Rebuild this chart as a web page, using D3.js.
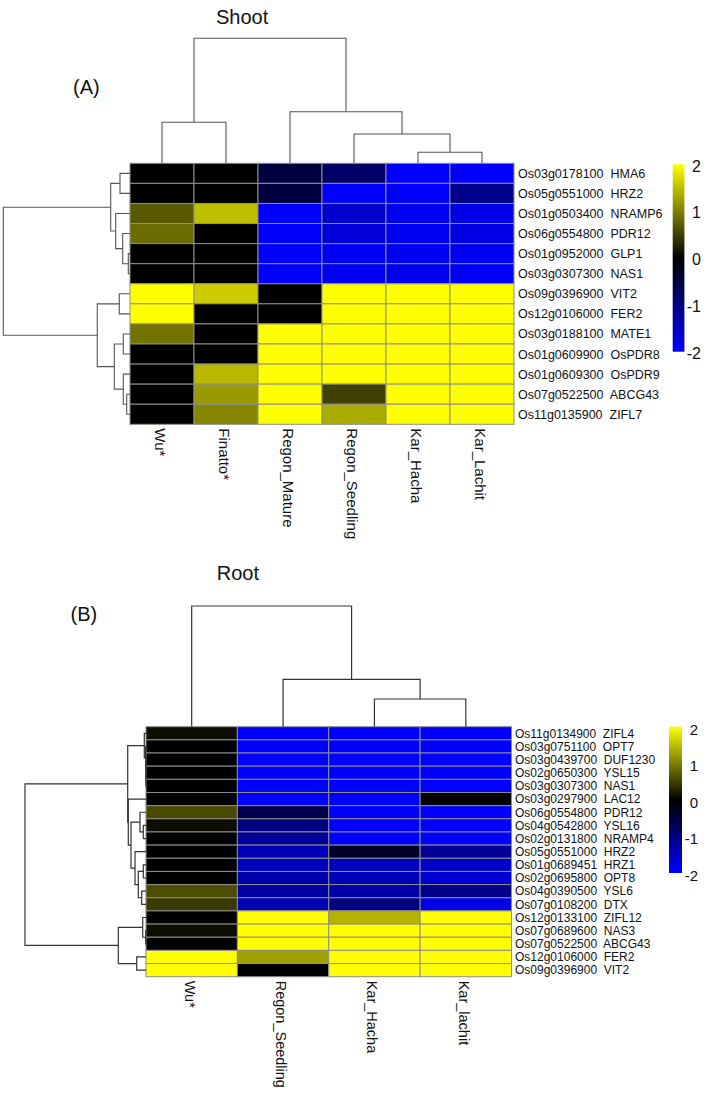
<!DOCTYPE html>
<html>
<head>
<meta charset="utf-8">
<script src="https://cdnjs.cloudflare.com/ajax/libs/d3/7.8.5/d3.min.js"></script>
<style>
  body { margin: 0; background: #fff; }
  text { font-family: "Liberation Sans", Arial, sans-serif; fill: #111; }
</style>
</head>
<body>
<div id="chart"></div>
<script>
// ---------- Shoot (A) ----------
const shootSamples = ["Wu*", "Finatto*", "Regon_Mature", "Regon_Seedling", "Kar_Hacha", "Kar_Lachit"];
const shootGenes = [
    "Os03g0178100  HMA6", "Os05g0551000  HRZ2", "Os01g0503400  NRAMP6", "Os06g0554800  PDR12",
    "Os01g0952000  GLP1", "Os03g0307300  NAS1", "Os09g0396900  VIT2", "Os12g0106000  FER2",
    "Os03g0188100  MATE1", "Os01g0609900  OsPDR8", "Os01g0609300  OsPDR9", "Os07g0522500  ABCG43",
    "Os11g0135900  ZIFL7"
];
// rows follow shootGenes, columns follow shootSamples
const shootValues = [
    [0, 0, -0.5, -0.8, -2, -2],
    [0, 0, -0.5, -2, -2, -1.1],
    [0.7, 1.5, -2, -1.6, -1.9, -1.8],
    [0.85, 0, -2, -1.7, -1.9, -1.8],
    [0, 0, -2, -1.9, -1.9, -1.9],
    [0, 0, -2, -1.9, -1.85, -1.95],
    [2, 1.6, 0, 2, 2, 2],
    [2, 0, 0, 2, 2, 2],
    [0.9, 0, 2, 2, 2, 2],
    [0, 0, 2, 2, 2, 2],
    [0, 1.45, 2, 2, 2, 2],
    [0, 1.2, 2, 0.5, 2, 2],
    [0, 1.05, 2, 1.35, 2, 2]
];
// dendrograms: [height, left, right], numbers are leaf indices
const shootColTree = [125, [41, 0, 1], [51.6, 2, [29.3, 3, [11, 4, 5]]]];
const shootRowTree = [126.7,
    [19.3, [10, 0, 1], [14.3, 2, [7.3, 3, [1.7, 4, 5]]]],
    [32.7, [10.7, 6, 7], [15.7, [6.7, 8, 9], [6.7, 10, [3.3, 11, 12]]]]];

// ---------- Root (B) ----------
const rootSamples = ["Wu*", "Regon_Seedling", "Kar_Hacha", "Kar_lachit"];
const rootGenes = [
    "Os11g0134900  ZIFL4", "Os03g0751100  OPT7", "Os03g0439700  DUF1230", "Os02g0650300  YSL15",
    "Os03g0307300  NAS1", "Os03g0297900  LAC12", "Os06g0554800  PDR12", "Os04g0542800  YSL16",
    "Os02g0131800  NRAMP4", "Os05g0551000  HRZ2", "Os01g0689451  HRZ1", "Os02g0695800  OPT8",
    "Os04g0390500  YSL6", "Os07g0108200  DTX", "Os12g0133100  ZIFL12", "Os07g0689600  NAS3",
    "Os07g0522500  ABCG43", "Os12g0106000  FER2", "Os09g0396900  VIT2"
];
const rootValues = [
    [0.1, -2, -2, -2],
    [0, -2, -2, -2],
    [0, -2, -2, -2],
    [0, -2, -2, -2],
    [0, -2, -2, -2],
    [0, -2, -2, 0],
    [0.58, -0.6, -2, -2],
    [0.1, -1.0, -2, -2],
    [0, -1.2, -2, -2],
    [0, -1.45, -0.35, -1.2],
    [0, -1.5, -1.5, -1.6],
    [0, -1.35, -1.45, -1.65],
    [0.6, -1.3, -1.3, -1.1],
    [0.45, -1.4, -1.0, -1.8],
    [0, 2, 1.4, 2],
    [0.1, 2, 2, 2],
    [0, 2, 2, 2],
    [2, 1.25, 2, 2],
    [2, 0, 2, 2]
];
const rootColTree = [120.7, 0, [47.4, 1, [27.7, 2, 3]]];
const rootRowTree = [121,
    [18.3, [1.7, 0, [0.4, 1, [0.2, 2, [0.1, 3, 4]]]],
        [17.7, 5, [15, [6, 6, [2.7, 7, 8]], [11, 9, [7.7, [2.7, 10, 11], [4.3, 12, 13]]]]]],
    [27.7, [3.3, 14, [0.3, 15, 16]], [9.3, 17, 18]]];

const legendTicks = [-2, -1, 0, 1, 2];

// ---------- drawing ----------
const width = 709, height = 1093;

const svg = d3.select("#chart").append("svg")
    .attr("width", width)
    .attr("height", height)
    .style("background", "#fff");

const color = d3.scaleLinear()
    .domain([-2, 0, 2])
    .range(["#0000ff", "#000000", "#ffff00"])
    .clamp(true);

// shared gradient for the colour keys
const grad = svg.append("defs").append("linearGradient")
    .attr("id", "keyGrad")
    .attr("x1", 0).attr("y1", 1).attr("x2", 0).attr("y2", 0);
d3.range(-2, 2.01, 0.25).forEach(v => {
    grad.append("stop")
        .attr("offset", (v + 2) / 4)
        .attr("stop-color", color(v));
});

function drawDendro(g, tree, leafPos, hScale, vertical, stroke, sw) {
    let segs = [];
    function walk(node) {
        if (typeof node === "number") return {p: leafPos(node), h: 0};
        let l = walk(node[1]), r = walk(node[2]);
        segs.push({l: l, r: r, h: node[0]});
        return {p: (l.p + r.p) / 2, h: node[0]};
    }
    walk(tree);

    g.selectAll(null)
        .data(segs)
        .enter()
        .append("path")
        .attr("fill", "none")
        .attr("stroke", stroke)
        .attr("stroke-width", sw)
        .attr("d", function(d) {
            if (vertical) {
                return `M${d.l.p},${hScale(d.l.h)}V${hScale(d.h)}H${d.r.p}V${hScale(d.r.h)}`;
            }
            return `M${hScale(d.l.h)},${d.l.p}H${hScale(d.h)}V${d.r.p}H${hScale(d.r.h)}`;
        });
}

function drawPanel(p) {
    let g = svg.append("g");

    let x = d3.scaleBand().domain(d3.range(p.samples.length)).range([p.left, p.right]);
    let y = d3.scaleBand().domain(d3.range(p.genes.length)).range([p.top, p.bottom]);

    // cells
    let cells = [];
    p.values.forEach((row, i) => row.forEach((v, j) => cells.push({i: i, j: j, v: v})));

    g.selectAll("rect.cell")
        .data(cells)
        .enter()
        .append("rect")
        .attr("class", "cell")
        .attr("x", d => x(d.j))
        .attr("y", d => y(d.i))
        .attr("width", x.bandwidth())
        .attr("height", y.bandwidth())
        .attr("fill", d => color(d.v))
        .attr("stroke", "#8e8e8e")
        .attr("stroke-width", 1);

    // gene labels
    g.selectAll("text.gene")
        .data(p.genes)
        .enter()
        .append("text")
        .attr("class", "gene")
        .attr("x", p.right + p.geneGap)
        .attr("y", (d, i) => y(i) + y.bandwidth() / 2)
        .attr("dy", "0.36em")
        .style("white-space", "pre")
        .style("font-size", p.geneFont + "px")
        .text(d => d);

    // sample labels, rotated
    g.selectAll("text.sample")
        .data(p.samples)
        .enter()
        .append("text")
        .attr("class", "sample")
        .attr("transform", (d, i) => `translate(${x(i) + x.bandwidth() / 2 - 2}, ${p.bottom + 4}) rotate(90)`)
        .attr("dy", "0.35em")
        .style("font-size", p.sampleFont + "px")
        .text(d => d);

    // dendrograms
    let colH = d3.scaleLinear().domain([0, p.colTree[0]]).range([p.top, p.colTop]);
    drawDendro(g, p.colTree, i => x(i) + x.bandwidth() / 2, colH, true, p.treeColor, p.treeWidth);

    let rowH = d3.scaleLinear().domain([0, p.rowTree[0]]).range([p.left, p.rowLeft]);
    drawDendro(g, p.rowTree, i => y(i) + y.bandwidth() / 2, rowH, false, p.treeColor, p.treeWidth);

    // colour key
    let k = p.key;
    g.append("rect")
        .attr("x", k.x)
        .attr("y", k.top)
        .attr("width", k.w)
        .attr("height", k.bottom - k.top)
        .attr("fill", "url(#keyGrad)");

    let kScale = d3.scaleLinear().domain([-2, 2]).range([k.bottom, k.top]);
    g.selectAll("text.key")
        .data(legendTicks)
        .enter()
        .append("text")
        .attr("class", "key")
        .attr("x", k.labelX)
        .attr("y", d => kScale(d) + k.shift)
        .attr("dy", "0.36em")
        .attr("text-anchor", "end")
        .style("font-size", k.font + "px")
        .text(d => d);

    // titles
    g.append("text")
        .attr("x", p.titleX).attr("y", p.titleY)
        .style("font-size", "20px")
        .text(p.title);
    g.append("text")
        .attr("x", p.tagX).attr("y", p.tagY)
        .style("font-size", "20px")
        .text(p.tag);
}

drawPanel({
    samples: shootSamples, genes: shootGenes, values: shootValues,
    colTree: shootColTree, rowTree: shootRowTree,
    left: 130, right: 514, top: 163.3, bottom: 424.3,
    colTop: 38.3, rowLeft: 3.3,
    geneGap: 4, geneFont: 12.5, sampleFont: 15,
    treeColor: "#555", treeWidth: 1.1,
    key: {x: 672.7, w: 11.7, top: 164.3, bottom: 351.7, labelX: 701, shift: 1.5, font: 16},
    title: "Shoot", titleX: 216, titleY: 24,
    tag: "(A)", tagX: 73, tagY: 94
});

drawPanel({
    samples: rootSamples, genes: rootGenes, values: rootValues,
    colTree: rootColTree, rowTree: rootRowTree,
    left: 146, right: 511.5, top: 726.7, bottom: 976.7,
    colTop: 606, rowLeft: 25,
    geneGap: 3.5, geneFont: 12, sampleFont: 14.5,
    treeColor: "#333", treeWidth: 1.2,
    key: {x: 669, w: 13, top: 726.7, bottom: 873, labelX: 698, shift: 2.5, font: 15},
    title: "Root", titleX: 216.7, titleY: 580,
    tag: "(B)", tagX: 70.5, tagY: 621
});
</script>
</body>
</html>
